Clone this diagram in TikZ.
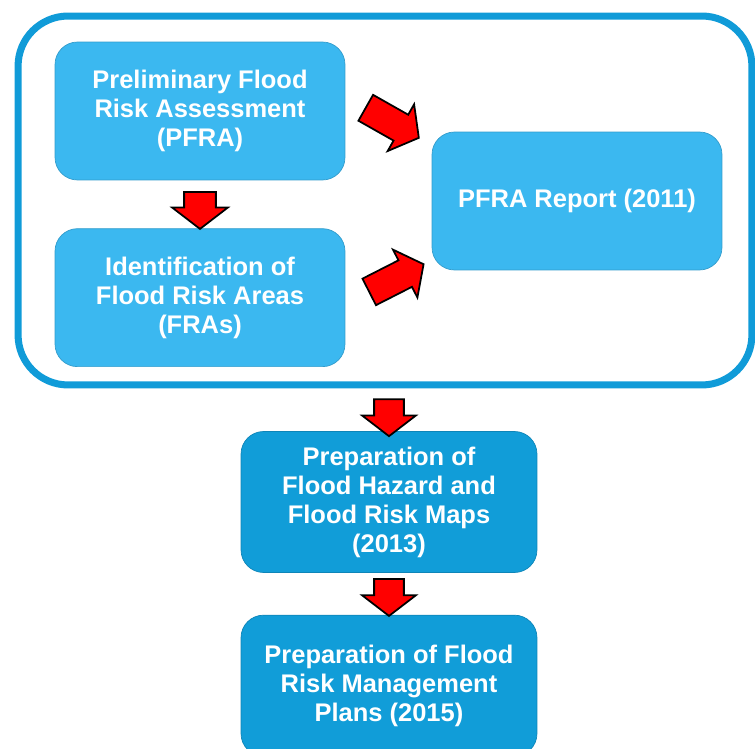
\documentclass[tikz,border=0pt]{standalone}
\usepackage{fontspec}
\setmainfont{Liberation Sans}
\usetikzlibrary{positioning,calc,shapes.arrows}
\definecolor{lightblue}{RGB}{59,184,240}
\definecolor{deepblue}{RGB}{17,157,216}
\definecolor{frameblue}{RGB}{16,155,216}
\tikzset{
    stage/.style =  {rectangle,
                    rounded corners=0.45cm,
                    fill=lightblue,
                    draw=lightblue!85!black,
                    thin,
                    text=white,
                    font=\bfseries\fontsize{14.5}{16.5}\selectfont,
                    align=center,
                    minimum width=5.8cm,
                    minimum height=2.76cm},
    plan/.style =   {stage,
                    fill=deepblue,
                    draw=deepblue!85!black,
                    minimum width=5.92cm,
                    minimum height=2.82cm},
    frame/.style =  {rectangle,
                    rounded corners=1cm,
                    draw=frameblue,
                    line width=4pt,
                    minimum width=14.68cm,
                    minimum height=7.38cm},
    bigarrow/.style = {single arrow,
                    fill=red,
                    draw=black,
                    line width=1pt,
                    inner xsep=0pt,
                    inner ysep=0.3cm,
                    single arrow head extend=0.24cm,
                    single arrow tip angle=105,
                    minimum height=0.74cm}}

\begin{document}
\begin{tikzpicture}[x=0.02cm,y=-0.02cm]
                \useasboundingbox (0,0) rectangle (755,749);
                \clip (0,0) rectangle (755,749);
                \node[frame]    (group)  at (385,200.5)              {};
                \node[stage]    (pfra)   at (200,111)                {Preliminary Flood\\Risk Assessment\\(PFRA)};
                \node[stage]    (fra)    [below=0.96cm of pfra]      {Identification of\\Flood Risk Areas\\(FRAs)};
                \node[stage]    (report) at (577,201)                {PFRA Report (2011)};
                \node[plan]     (maps)   at (389,502)                {Preparation of\\Flood Hazard and\\Flood Risk Maps\\(2013)};
                \node[plan]     (plans)  [below=0.84cm of maps]      {Preparation of Flood\\Risk Management\\Plans (2015)};
                % block arrows
                \node[bigarrow, rotate=-90]   (a1) at ($(pfra.south)!0.5!(fra.north)$)            {};
                \node[bigarrow, rotate=-29.5, minimum height=1.22cm, inner ysep=0.28cm] (a2) at ($(pfra.east)+(42,9)$)  {};
                \node[bigarrow, rotate=27, minimum height=1.22cm, inner ysep=0.28cm]    (a3) at ($(fra.east)+(46,-17)$) {};
                \node[bigarrow, rotate=-90, inner ysep=0.28cm] (a4) at ($(group.south -| maps.north)!0.55!(maps.north)$) {};
                \node[bigarrow, rotate=-90, inner ysep=0.28cm] (a5) at ($(maps.south)!0.45!(plans.north)$)          {};
        \end{tikzpicture}
\end{document}
